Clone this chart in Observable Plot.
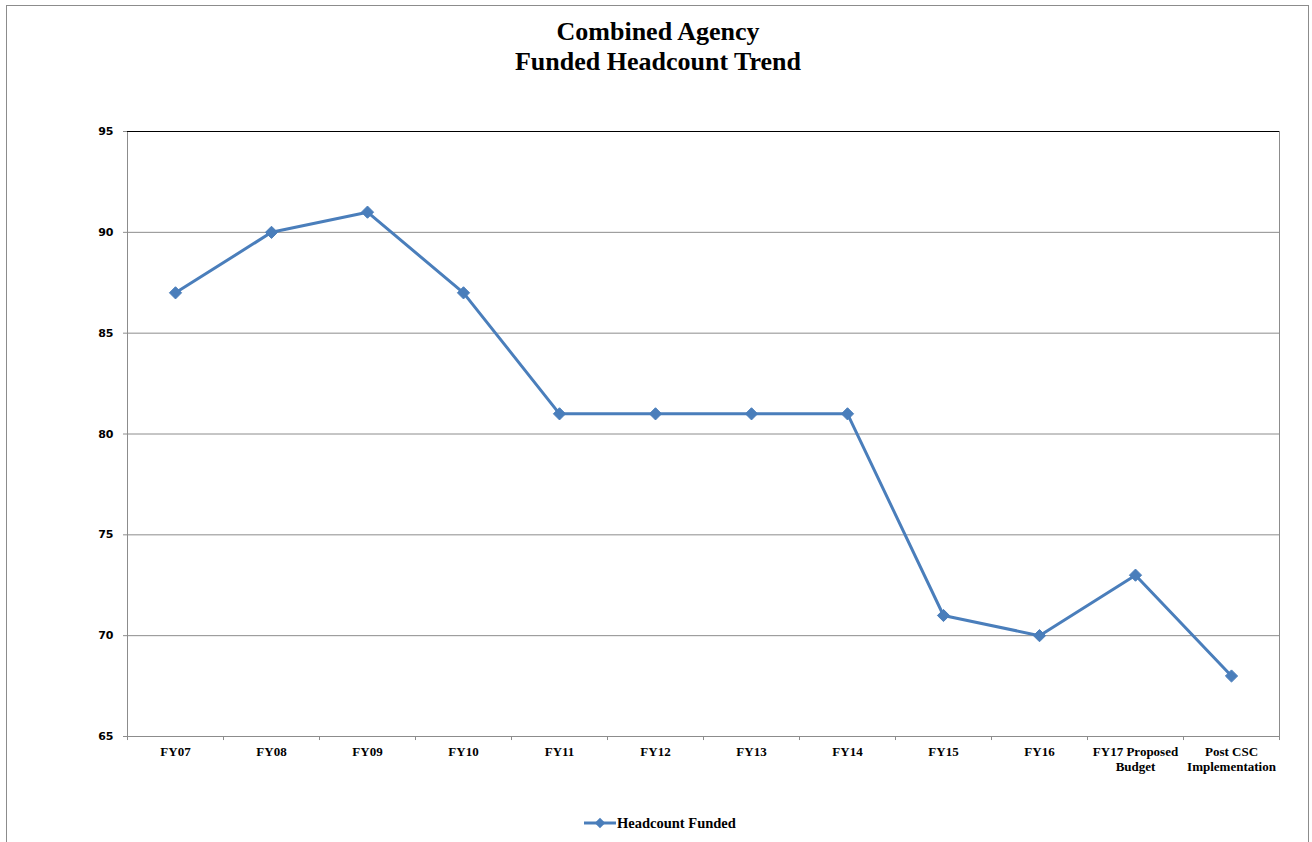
<!DOCTYPE html>
<html>
<head>
<meta charset="utf-8">
<script src="https://cdn.jsdelivr.net/npm/d3@7"></script>
<script src="https://cdn.jsdelivr.net/npm/@observablehq/plot@0.6"></script>
<style>
  html, body { margin: 0; padding: 0; background: #fff; overflow: hidden; }
  #wrap { position: relative; width: 1312px; height: 842px; overflow: hidden; }
  #border { position: absolute; left: 6px; top: 5px; width: 1303px; height: 900px; border: 1px solid #8c8c8c; box-sizing: border-box; }
  #title { position: absolute; left: 0; top: 17px; width: 1316px; text-align: center;
           font-family: "Liberation Serif", "Times New Roman", serif; font-weight: bold; font-size: 26px; line-height: 30px; color: #000; }
  #chart { position: absolute; left: 0; top: 110px; }
  #legend { position: absolute; left: 0; top: 810px; }
</style>
</head>
<body>
<div id="wrap">
  <div id="border"></div>
  <div id="title">Combined Agency<br>Funded Headcount Trend</div>
  <div id="chart"></div>
  <div id="legend"></div>
</div>
<script>
const categories = ["FY07", "FY08", "FY09", "FY10", "FY11", "FY12", "FY13", "FY14", "FY15", "FY16",
  "FY17 Proposed\nBudget", "Post CSC\nImplementation"];
const headcount = [87, 90, 91, 87, 81, 81, 81, 81, 71, 70, 73, 68];
const yTicks = [65, 70, 75, 80, 85, 90, 95];
const gridValues = [70, 75, 80, 85, 90];
const seriesName = "Headcount Funded";

const data = categories.map((c, i) => ({cat: c, value: headcount[i]}));

const W = 1312, H = 690, mL = 127, mR = 33, mT = 21, mB = 64;
const step = (W - mL - mR) / categories.length;
const lineColor = "#4A7EBB";

const chart = Plot.plot({
  width: W, height: H,
  marginLeft: mL, marginRight: mR, marginTop: mT, marginBottom: mB,
  style: {color: "#000", background: "transparent", overflow: "visible"},
  x: {type: "point", domain: categories, padding: 0.5},
  y: {domain: [65, 95]},
  marks: [
    Plot.ruleY(gridValues, {stroke: "#8c8c8c", strokeWidth: 1}),
    Plot.frame({stroke: "#8c8c8c", strokeWidth: 1}),
    Plot.ruleY([95], {stroke: "#000", strokeWidth: 1}),
    Plot.ruleX(categories, {x: d => d, y1: 65, y2: 64.8, dx: -step / 2, stroke: "#8c8c8c"}),
    Plot.ruleX(categories.slice(-1), {x: d => d, y1: 65, y2: 64.8, dx: step / 2, stroke: "#8c8c8c"}),
    Plot.axisY({ticks: yTicks, tickSize: 4, tickPadding: 10, stroke: "#8c8c8c",
      fontFamily: "DejaVu Sans, sans-serif", fontWeight: "bold", fontSize: 11, label: null}),
    Plot.axisX({tickSize: 0, tickPadding: 9, label: null,
      fontFamily: "Liberation Serif, Times New Roman, serif", fontWeight: "bold", fontSize: 13, lineHeight: 1.15}),
    Plot.line(data, {x: "cat", y: "value", stroke: lineColor, strokeWidth: 3}),
    Plot.dot(data, {x: "cat", y: "value", symbol: "diamond2", r: 5.5, fill: lineColor, stroke: lineColor, strokeWidth: 1})
  ]
});
document.getElementById("chart").appendChild(chart);

// legend
const lg = d3.create("svg").attr("width", W).attr("height", 30);
lg.append("line").attr("x1", 584).attr("x2", 616).attr("y1", 13).attr("y2", 13)
  .attr("stroke", lineColor).attr("stroke-width", 3);
lg.append("path").attr("d", d3.symbol(d3.symbolDiamond2, 70)())
  .attr("transform", "translate(600,13)").attr("fill", lineColor);
lg.append("text").attr("x", 617).attr("y", 13).attr("dy", "0.35em")
  .attr("font-family", "Liberation Serif, Times New Roman, serif").attr("font-weight", "bold")
  .attr("font-size", 14.5).text(seriesName);
document.getElementById("legend").appendChild(lg.node());
</script>
</body>
</html>
